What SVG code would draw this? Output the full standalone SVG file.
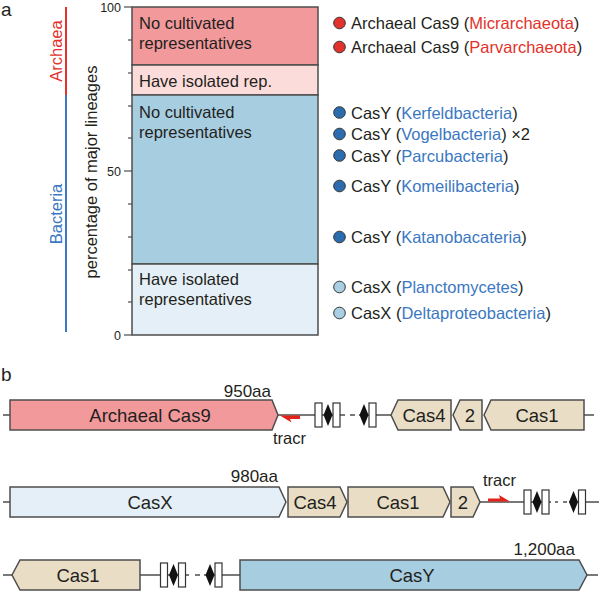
<svg xmlns="http://www.w3.org/2000/svg" width="600" height="593" viewBox="0 0 600 593">
<style>
text{font-family:"Liberation Sans",Arial,sans-serif;fill:#231f20}
.lbl{font-size:19px}
.ax{font-size:12.5px;text-anchor:end}
.bt{font-size:16.5px}
.lg{font-size:16.5px}
.red{fill:#e2322b}
.blu{fill:#3b78c2}
.box{stroke:#4d4d4d;stroke-width:1.5}
.gene{stroke:#4d4d4d;stroke-width:1.5}
.gl{font-size:18.5px;text-anchor:middle}
.aa{font-size:17px;text-anchor:end}
.ln{stroke:#4d4d4d;stroke-width:1.5;fill:none}
.rep{fill:#fff;stroke:#333;stroke-width:1.2}
.dia{fill:#111}
.tan{fill:#e9ddc5}
.tick{stroke:#4d4d4d;stroke-width:1.2}
</style>
<defs>
<g id="rr"><rect x="-13" y="-12" width="7" height="24" class="rep"/><polygon points="0,-11 4.5,0 0,11 -4.5,0" class="dia"/><rect x="5" y="-12" width="7" height="24" class="rep"/></g>
<g id="r1"><polygon points="0,-11 4.5,0 0,11 -4.5,0" class="dia"/><rect x="5" y="-12" width="7" height="24" class="rep"/></g>
</defs>

<text class="lbl" x="1" y="16">a</text>
<text class="lbl" x="1" y="381">b</text>

<g id="panel-a-axis">
<line x1="66" y1="7" x2="66" y2="95" stroke="#e2322b" stroke-width="2"/>
<line x1="66" y1="95" x2="66" y2="332" stroke="#3b78c2" stroke-width="2"/>
<text class="bt red" transform="translate(62,51) rotate(-90)" text-anchor="middle">Archaea</text>
<text class="bt blu" transform="translate(62,214) rotate(-90)" text-anchor="middle">Bacteria</text>
<text class="bt" transform="translate(97,172) rotate(-90)" text-anchor="middle">percentage of major lineages</text>
<g class="tick">
<line x1="124" y1="7" x2="132" y2="7"/>
<line x1="128" y1="40" x2="132" y2="40"/>
<line x1="128" y1="73" x2="132" y2="73"/>
<line x1="128" y1="106" x2="132" y2="106"/>
<line x1="128" y1="138" x2="132" y2="138"/>
<line x1="124" y1="171" x2="132" y2="171"/>
<line x1="128" y1="204" x2="132" y2="204"/>
<line x1="128" y1="237" x2="132" y2="237"/>
<line x1="128" y1="270" x2="132" y2="270"/>
<line x1="128" y1="302" x2="132" y2="302"/>
<line x1="124" y1="335" x2="132" y2="335"/>
</g>
<text class="ax" x="121" y="12">100</text>
<text class="ax" x="121" y="176">50</text>
<text class="ax" x="121" y="340">0</text>
</g>

<g id="bar">
<rect x="132" y="7" width="186" height="58" fill="#f2999b" class="box"/>
<rect x="132" y="65" width="186" height="30" fill="#fcdcdb" class="box"/>
<rect x="132" y="95" width="186" height="169" fill="#a7cde1" class="box"/>
<rect x="132" y="264" width="186" height="71" fill="#e4eff7" class="box"/>
<text class="bt" x="139" y="29">No cultivated</text>
<text class="bt" x="139" y="49">representatives</text>
<text class="bt" x="139" y="87">Have isolated rep.</text>
<text class="bt" x="139" y="118">No cultivated</text>
<text class="bt" x="139" y="138">representatives</text>
<text class="bt" x="139" y="285">Have isolated</text>
<text class="bt" x="139" y="305">representatives</text>
</g>

<g id="legend">
<g stroke="#333" stroke-width="1">
<circle cx="339.5" cy="23" r="5.8" fill="#e2322b"/>
<circle cx="339.5" cy="47" r="5.8" fill="#e2322b"/>
<circle cx="339.5" cy="112.5" r="5.8" fill="#2a6cad"/>
<circle cx="339.5" cy="134" r="5.8" fill="#2a6cad"/>
<circle cx="339.5" cy="155.5" r="5.8" fill="#2a6cad"/>
<circle cx="339.5" cy="186" r="5.8" fill="#2a6cad"/>
<circle cx="339.5" cy="237" r="5.8" fill="#2a6cad"/>
<circle cx="339.5" cy="287" r="5.8" fill="#a8d0e2"/>
<circle cx="339.5" cy="313" r="5.8" fill="#a8d0e2"/>
</g>
<text class="lg" x="351" y="29">Archaeal Cas9 (<tspan class="red">Micrarchaeota</tspan>)</text>
<text class="lg" x="351" y="53">Archaeal Cas9 (<tspan class="red">Parvarchaeota</tspan>)</text>
<text class="lg" x="351" y="118.5">CasY (<tspan class="blu">Kerfeldbacteria</tspan>)</text>
<text class="lg" x="351" y="140">CasY (<tspan class="blu">Vogelbacteria</tspan>) ×2</text>
<text class="lg" x="351" y="161.5">CasY (<tspan class="blu">Parcubacteria</tspan>)</text>
<text class="lg" x="351" y="192">CasY (<tspan class="blu">Komeilibacteria</tspan>)</text>
<text class="lg" x="351" y="243">CasY (<tspan class="blu">Katanobacateria</tspan>)</text>
<text class="lg" x="351" y="293">CasX (<tspan class="blu">Planctomycetes</tspan>)</text>
<text class="lg" x="351" y="319">CasX (<tspan class="blu">Deltaproteobacteria</tspan>)</text>
</g>

<g id="connectors">
<path class="ln" d="M3,415H10 M278,415H345 M350,415H355 M359,415H391 M584,415H594"/>
<path class="ln" d="M3,502H10 M480,502H551 M555,502H558 M563,502H567 M569,502H599"/>
<path class="ln" d="M3,575H12 M140,575H189 M195,575H200 M204,575H240 M587,575H598"/>
</g>

<g id="row1">
<g id="cas9"><polygon class="gene" fill="#f2999b" points="10,400 272,400 278,415 272,430 10,430"/><text class="gl" x="150" y="421.5">Archaeal Cas9</text></g>
<text class="aa" x="271" y="397">950aa</text>
<g id="tracr1"><polygon fill="#e2231a" points="280,415.5 300,415.5 300,419 290,419 291.5,422.5"/><text class="bt" x="273" y="444">tracr</text></g>
<use href="#rr" x="328" y="415"/>
<use href="#r1" x="364" y="415"/>
<g id="cas4-1"><polygon class="gene tan" points="391,415 398,400 451,400 451,430 398,430"/><text class="gl" x="424" y="421.5">Cas4</text></g>
<g id="cas2-1"><polygon class="gene tan" points="453,415 460,400 482,400 482,430 460,430"/><text class="gl" x="470" y="421.5">2</text></g>
<g id="cas1-1"><polygon class="gene tan" points="484,415 491,400 584,400 584,430 491,430"/><text class="gl" x="537" y="421.5">Cas1</text></g>
</g>

<g id="row2">
<g id="casx"><polygon class="gene" fill="#e4eff7" points="10,487 279,487 286,502 279,517 10,517"/><text class="gl" x="150" y="508.5">CasX</text></g>
<text class="aa" x="278" y="482">980aa</text>
<g id="cas4-2"><polygon class="gene tan" points="288,487 340,487 347,502 340,517 288,517"/><text class="gl" x="315" y="508.5">Cas4</text></g>
<g id="cas1-2"><polygon class="gene tan" points="348,487 443,487 450,502 443,517 348,517"/><text class="gl" x="398" y="508.5">Cas1</text></g>
<g id="cas2-2"><polygon class="gene tan" points="451,487 473,487 480,502 473,517 451,517"/><text class="gl" x="463" y="508.5">2</text></g>
<g id="tracr2"><polygon fill="#e2231a" points="488,498.5 500,498.5 499,495 510,501.5 488,501.5"/><text class="bt" x="483" y="486">tracr</text></g>
<use href="#rr" x="537" y="502"/>
<use href="#r1" x="573.5" y="502"/>
</g>

<g id="row3">
<g id="cas1-3"><polygon class="gene tan" points="12,575 20,560 140,560 140,590 20,590"/><text class="gl" x="78" y="581.5">Cas1</text></g>
<use href="#rr" x="173.5" y="575"/>
<use href="#r1" x="210" y="575"/>
<g id="casy"><polygon class="gene" fill="#a7cde1" points="240,560 579,560 587,575 579,590 240,590"/><text class="gl" x="412" y="581.5">CasY</text></g>
<text class="aa" x="575" y="555">1,200aa</text>
</g>
</svg>
